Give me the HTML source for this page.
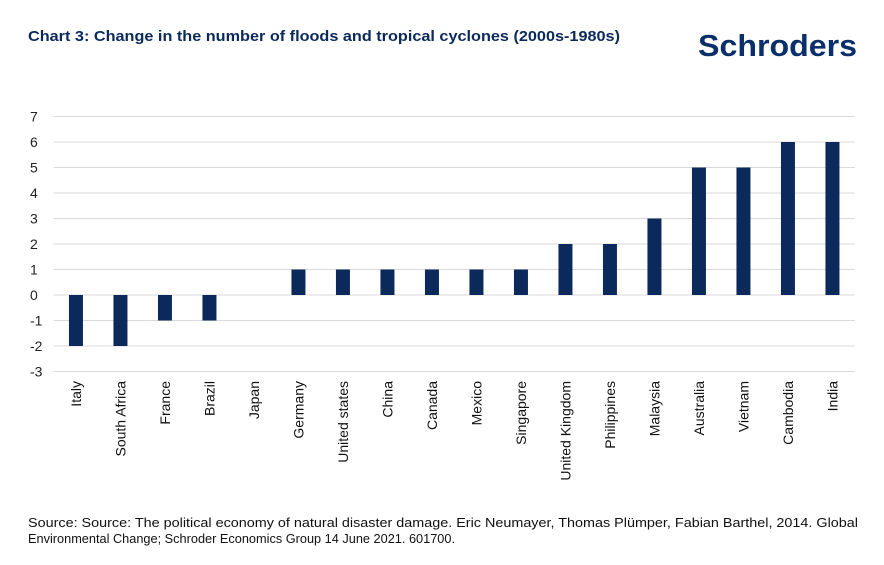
<!DOCTYPE html>
<html><head><meta charset="utf-8"><style>
html,body{margin:0;padding:0;background:#fff;}
svg{display:block;font-family:"Liberation Sans",sans-serif;}
</style></head><body>
<svg id="chart" width="884" height="565" viewBox="0 0 884 565">
<text x="28" y="41" font-size="15" font-weight="bold" fill="#0b2a5b" textLength="592" lengthAdjust="spacingAndGlyphs">Chart 3: Change in the number of floods and tropical cyclones (2000s-1980s)</text>
<text x="698" y="56" font-size="31" font-weight="bold" fill="#0b2f6b" textLength="159" lengthAdjust="spacingAndGlyphs">Schroders</text>
<g id="grid"></g>
<g id="yticks"></g>
<g id="bars"></g>
<g id="xlabels"></g>
<text x="28" y="527" font-size="12.5" fill="#111" textLength="830" lengthAdjust="spacingAndGlyphs">Source: Source: The political economy of natural disaster damage. Eric Neumayer, Thomas Plümper, Fabian Barthel, 2014. Global</text>
<text x="28" y="543" font-size="12.5" fill="#111" textLength="427" lengthAdjust="spacingAndGlyphs">Environmental Change; Schroder Economics Group 14 June 2021. 601700.</text>
</svg>
<script>
const categories=["Italy","South Africa","France","Brazil","Japan","Germany","United states","China","Canada","Mexico","Singapore","United Kingdom","Philippines","Malaysia","Australia","Vietnam","Cambodia","India"];
const values=[-2,-2,-1,-1,0,1,1,1,1,1,1,2,2,3,5,5,6,6];
const yTicks=[7,6,5,4,3,2,1,0,-1,-2,-3];
const NS="http://www.w3.org/2000/svg";
const left=53.7,step=44.5,y0=295,unit=25.5,right=left+step*categories.length;
const y=v=>y0-v*unit;
const x=i=>left+step*(i+0.5);
function mk(t,a,p){const e=document.createElementNS(NS,t);for(const k in a)e.setAttribute(k,a[k]);p.appendChild(e);return e;}
const g=document.getElementById('grid'),yt=document.getElementById('yticks'),b=document.getElementById('bars'),xl=document.getElementById('xlabels');
yTicks.forEach(v=>{
 const l=mk('line',{x1:left,x2:right,y1:y(v),y2:y(v),stroke:'#d9d9d9','stroke-width':1},g);
 
 
 const t=mk('text',{x:30,y:y(v)+5,'font-size':14,fill:'#222'},yt);
 t.textContent=v;
 
 
});
values.forEach((v,i)=>{
 if(v!==0){
 const r=mk('rect',{x:x(i)-7,width:14,y:Math.min(y(v),y(0)),height:Math.abs(y(v)-y(0)),fill:'#0b2a5b'},b);
 
 
 }
 const t=mk('text',{x:0,y:0,'font-size':14,fill:'#111','text-anchor':'end',transform:`translate(${x(i)+5},381) rotate(-90)`},xl);
 t.textContent=categories[i];
 
 
});
</script>
</body></html>
